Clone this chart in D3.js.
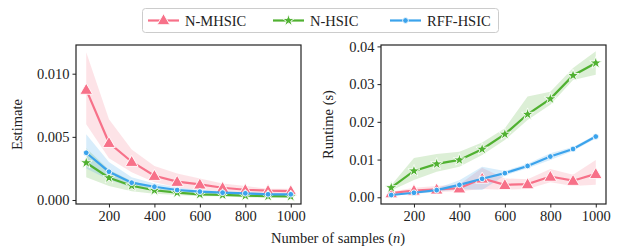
<!DOCTYPE html>
<html>
<head>
<meta charset="utf-8">
<script src="https://d3js.org/d3.v7.min.js"></script>
<style>
  body { margin: 0; background: #fff; }
</style>
</head>
<body>
<svg id="chart" width="618" height="249" font-family="Liberation Serif"></svg>
<script>
const samples = [100, 200, 300, 400, 500, 600, 700, 800, 900, 1000];
const methods = ["N-MHSIC", "N-HSIC", "RFF-HSIC"];
const colors = ["#f77189", "#50b131", "#3ba3ec"];
const xTicks = [200, 400, 600, 800, 1000];

// Estimate panel
const estMean = [
  [0.00874, 0.00453, 0.00303, 0.00192, 0.00145, 0.00124, 0.00097, 0.00081, 0.00074, 0.00071],
  [0.00295, 0.00176, 0.00113, 0.00077, 0.00058, 0.00045, 0.00040, 0.00034, 0.00030, 0.00029],
  [0.00374, 0.00224, 0.00137, 0.00105, 0.00079, 0.00066, 0.00058, 0.00053, 0.00045, 0.00045]
];
const estLow = [
  [0.0060, 0.0033, 0.0022, 0.0014, 0.0010, 0.0008, 0.0007, 0.0006, 0.0005, 0.0005],
  [0.0018, 0.0011, 0.0007, 0.0005, 0.0004, 0.0003, 0.0003, 0.0002, 0.0002, 0.0002],
  [0.0025, 0.0016, 0.0010, 0.0008, 0.0006, 0.0005, 0.0005, 0.0004, 0.0004, 0.0004]
];
const estHigh = [
  [0.0117, 0.0064, 0.0040, 0.0027, 0.0021, 0.0017, 0.0013, 0.0011, 0.0009, 0.0009],
  [0.0041, 0.0024, 0.0015, 0.0010, 0.0008, 0.0006, 0.0005, 0.0004, 0.0004, 0.0004],
  [0.0052, 0.0030, 0.0018, 0.0013, 0.0010, 0.0008, 0.0007, 0.0006, 0.0006, 0.0005]
];
const estTicks = [0, 0.005, 0.010];

// Runtime panel
const runMean = [
  [0.0011, 0.0018, 0.0021, 0.0024, 0.0050, 0.0033, 0.0035, 0.0055, 0.0044, 0.0062],
  [0.00255, 0.0070, 0.00884, 0.0099, 0.01275, 0.01673, 0.0220, 0.0261, 0.0323, 0.0356],
  [0.0006, 0.0012, 0.0019, 0.0033, 0.0049, 0.0064, 0.0083, 0.0108, 0.0128, 0.0161]
];
const runLow = [
  [0.0008, 0.0012, 0.0014, 0.0016, 0.0022, 0.0020, 0.0022, 0.0040, 0.0030, 0.0033],
  [0.0018, 0.0046, 0.0068, 0.0081, 0.0112, 0.0152, 0.0205, 0.0245, 0.0311, 0.0325],
  [0.0004, 0.0009, 0.0014, 0.0022, 0.0019, 0.0058, 0.0077, 0.0099, 0.0123, 0.0156]
];
const runHigh = [
  [0.0015, 0.0025, 0.0030, 0.0034, 0.0078, 0.0050, 0.0048, 0.0075, 0.0060, 0.0099],
  [0.0032, 0.0104, 0.0115, 0.0121, 0.0145, 0.0183, 0.0267, 0.0280, 0.0343, 0.0387],
  [0.0008, 0.0015, 0.0024, 0.0045, 0.0081, 0.0070, 0.0089, 0.0117, 0.0133, 0.0166]
];
const runTicks = [0, 0.01, 0.02, 0.03, 0.04];

const FONT = "Liberation Serif, Times New Roman, serif";
const FS = 14.5;
const svg = d3.select("#chart").attr("font-family", FONT);

const symbols = [
  d3.symbol().type(d3.symbolTriangle).size(70),
  d3.symbol().type(d3.symbolStar).size(45),
  d3.symbol().type(d3.symbolCircle).size(26)
];

function panel(cfg) {
  const x = d3.scaleLinear().domain([55, 1045]).range([cfg.left, cfg.right]);
  const y = d3.scaleLinear().domain(cfg.yDomain).range([204, 45]);
  const g = svg.append("g");

  const area = d3.area().x((d, i) => x(samples[i])).y0(d => y(d[0])).y1(d => y(d[1]));
  const line = d3.line().x((d, i) => x(samples[i])).y(d => y(d));

  methods.forEach((m, k) => {
    g.append("path")
      .datum(cfg.low[k].map((v, i) => [v, cfg.high[k][i]]))
      .attr("d", area)
      .attr("fill", colors[k]).attr("fill-opacity", 0.2);
  });
  methods.forEach((m, k) => {
    g.append("path").datum(cfg.mean[k]).attr("d", line)
      .attr("fill", "none").attr("stroke", colors[k]).attr("stroke-width", 2.2);
    g.selectAll(null).data(cfg.mean[k]).join("path")
      .attr("transform", (d, i) => `translate(${x(samples[i])},${y(d) + (k === 0 ? 1 : 0)})`)
      .attr("d", symbols[k])
      .attr("fill", colors[k]).attr("stroke", "#fff").attr("stroke-width", 0.9);
  });

  // frame
  g.append("rect").attr("x", cfg.left).attr("y", 45)
    .attr("width", cfg.right - cfg.left).attr("height", 159)
    .attr("fill", "none").attr("stroke", "#222").attr("stroke-width", 1.2);

  const ax = g.append("g").attr("transform", "translate(0,204)")
    .call(d3.axisBottom(x).tickValues(xTicks).tickFormat(d3.format("d")).tickSize(3.5).tickPadding(3));
  const ay = g.append("g").attr("transform", `translate(${cfg.left},0)`)
    .call(d3.axisLeft(y).tickValues(cfg.ticks).tickFormat(cfg.fmt).tickSize(3.5).tickPadding(3));
  [ax, ay].forEach(a => {
    a.attr("font-family", FONT).attr("font-size", FS);
    a.select(".domain").remove();
    a.selectAll("line").attr("stroke", "#222").attr("stroke-width", 1);
    a.selectAll("text").attr("fill", "#222");
  });

  g.append("text")
    .attr("transform", `translate(${cfg.labelX},${(45 + 204) / 2}) rotate(-90)`)
    .attr("text-anchor", "middle").attr("dy", "0.35em")
    .attr("font-family", FONT).attr("font-size", FS).attr("fill", "#222").text(cfg.label);
}

panel({ left: 76, right: 301, yDomain: [-0.000317, 0.012272], mean: estMean, low: estLow, high: estHigh,
        ticks: estTicks, fmt: d3.format(".3f"), label: "Estimate", labelX: 17 });
panel({ left: 381, right: 606, yDomain: [-0.00178, 0.04037], mean: runMean, low: runLow, high: runHigh,
        ticks: runTicks, fmt: d3.format(".2f"), label: "Runtime (s)", labelX: 328 });

// x label
const xl = svg.append("text").attr("x", 338).attr("y", 243).attr("text-anchor", "middle")
  .attr("font-family", FONT).attr("font-size", FS).attr("fill", "#222");
xl.append("tspan").text("Number of samples (");
xl.append("tspan").attr("font-style", "italic").text("n");
xl.append("tspan").text(")");

// legend
const leg = svg.append("g");
leg.append("rect").attr("x", 142.5).attr("y", 8.5).attr("width", 356).attr("height", 24).attr("rx", 3)
  .attr("fill", "#fff").attr("stroke", "#ccc").attr("stroke-width", 1);
const legX = [148, 273, 390];
methods.forEach((m, k) => {
  const lx = legX[k], ly = 20.5;
  leg.append("line").attr("x1", lx).attr("x2", lx + 31).attr("y1", ly).attr("y2", ly)
    .attr("stroke", colors[k]).attr("stroke-width", 2.2);
  leg.append("path").attr("transform", `translate(${lx + 15.5},${ly + (k === 0 ? 0.5 : 0)})`).attr("d", symbols[k])
    .attr("fill", colors[k]).attr("stroke", "#fff").attr("stroke-width", 0.9);
  leg.append("text").attr("x", lx + 37).attr("y", ly).attr("dy", "0.35em")
    .attr("font-family", FONT).attr("font-size", FS).attr("fill", "#222").text(m);
});
</script>
</body>
</html>
